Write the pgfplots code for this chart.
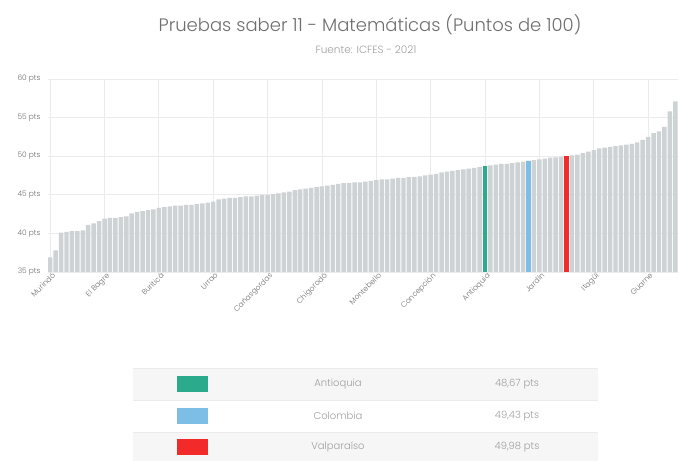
\documentclass[border=0pt]{standalone}
\usepackage{fontspec}
\setmainfont{Poppins Light}
\usepackage{pgfplots}
\pgfplotsset{compat=1.18}
\usepackage{pgfplotstable}
\definecolor{barg}{HTML}{CDD2D5}
\definecolor{antg}{HTML}{2BAA8C}
\definecolor{colb}{HTML}{7DBEE6}
\definecolor{valr}{HTML}{F22A2A}
\definecolor{gridc}{HTML}{EBEBEB}
\definecolor{txt}{HTML}{9E9E9E}
\definecolor{ttl}{HTML}{6E6E6E}
\definecolor{rowg}{HTML}{F6F6F6}
\pgfplotstableread{
i v
0 36.9
1 37.8
2 40.1
3 40.2
4 40.3
5 40.3
6 40.4
7 41.1
8 41.3
9 41.6
10 41.9
11 42.0
12 42.0
13 42.1
14 42.2
15 42.6
16 42.8
17 42.9
18 43.0
19 43.1
20 43.3
21 43.4
22 43.5
23 43.6
24 43.6
25 43.7
26 43.7
27 43.8
28 43.9
29 44.0
30 44.1
31 44.4
32 44.5
33 44.6
34 44.6
35 44.7
36 44.8
37 44.8
38 44.9
39 45.0
40 45.0
41 45.1
42 45.2
43 45.3
44 45.4
45 45.6
46 45.7
47 45.8
48 45.9
49 46.0
50 46.1
51 46.2
52 46.3
53 46.4
54 46.5
55 46.5
56 46.6
57 46.6
58 46.7
59 46.8
60 46.9
61 47.0
62 47.0
63 47.1
64 47.2
65 47.2
66 47.3
67 47.3
68 47.4
69 47.5
70 47.6
71 47.7
72 47.9
73 48.0
74 48.1
75 48.2
76 48.3
77 48.4
78 48.5
79 48.6
80 48.67
81 48.8
82 48.9
83 49.0
84 49.0
85 49.1
86 49.2
87 49.3
88 49.43
89 49.5
90 49.6
91 49.7
92 49.8
93 49.85
94 49.9
95 49.98
96 50.1
97 50.2
98 50.4
99 50.6
100 50.8
101 51.0
102 51.1
103 51.2
104 51.3
105 51.4
106 51.5
107 51.6
108 51.8
109 52.1
110 52.5
111 53.0
112 53.2
113 53.8
114 55.8
115 57.1
}\datatable
\begin{document}
\begin{tikzpicture}[x=1pt,y=1pt]
\useasboundingbox (0,0) rectangle (678,461);
% title
\node[text=ttl,font=\fontsize{18}{20}\selectfont] at (370,436) {Pruebas saber 11 - Matemáticas (Puntos de 100)};
\node[text=txt,font=\fontsize{10.5}{12}\selectfont] at (366,411) {Fuente: ICFES - 2021};
\begin{axis}[
  at={(48pt,189pt)}, anchor=south west,
  scale only axis, width=630pt, height=193pt,
  xmin=-0.4, xmax=115.5, ymin=35, ymax=60,
  axis line style={draw=none},
  tick style={draw=none},
  xtick={0,10,...,110},
  xticklabels={Murindó,El Bagre,Buriticá,Urrao,Cañasgordas,Chigorodó,Montebello,Concepción,Antioquia,Jardín,Itagüí,Guarne},
  ytick={35,40,...,60},
  yticklabel={\pgfmathparse{int(\tick)}\pgfmathresult\ pts},
  xmajorgrids, ymajorgrids,
  grid style={gridc, line width=0.8pt},
  xticklabel style={rotate=45, anchor=north east, font=\fontsize{7.5}{8}\selectfont, text=ttl, inner sep=1pt, xshift=2pt},
  yticklabel style={font=\fontsize{7.5}{8}\selectfont, text=ttl, anchor=east, xshift=-4pt},
]
\addplot[ybar, bar width=0.82, bar shift=0pt, fill=barg, draw=none] table[x=i,y=v]{\datatable};
\addplot[ybar, bar width=0.82, bar shift=0pt, fill=antg, draw=none] coordinates {(80,48.67)};
\addplot[ybar, bar width=0.82, bar shift=0pt, fill=colb, draw=none] coordinates {(88,49.43)};
\addplot[ybar, bar width=0.82, bar shift=0pt, fill=valr, draw=none] coordinates {(95,49.98)};
\end{axis}
% legend table
\fill[rowg] (133,61) rectangle (598,93);
\fill[rowg] (133,0) rectangle (598,29);
\draw[gridc, line width=0.6pt] (133,93) -- (598,93);
\draw[gridc, line width=0.6pt] (133,61) -- (598,61);
\draw[gridc, line width=0.6pt] (133,29) -- (598,29);
\fill[antg] (177,69) rectangle (208,85);
\fill[colb] (177,37) rectangle (208,53);
\fill[valr] (177,6) rectangle (208,22);
\begin{scope}[every node/.style={text=txt,font=\fontsize{10}{12}\selectfont}]
\node at (338,77) {Antioquia};
\node at (517,77) {48,67 pts};
\node at (338,45) {Colombia};
\node at (517,45) {49,43 pts};
\node at (338,14) {Valparaíso};
\node at (517,14) {49,98 pts};
\end{scope}
\end{tikzpicture}
\end{document}
